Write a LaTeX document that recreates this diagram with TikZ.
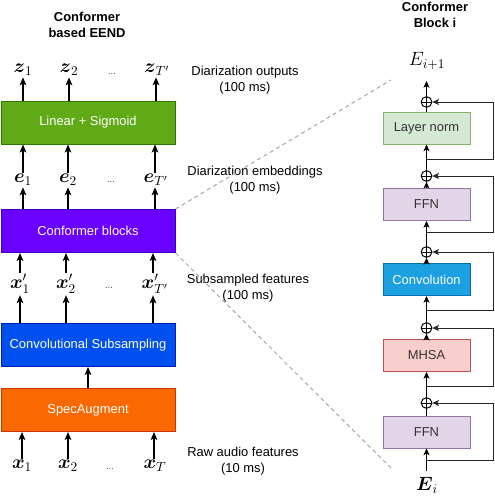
\documentclass[tikz,border=0pt]{standalone}
\usepackage{amsmath}
\usepackage{amssymb}
\usepackage[no-math]{fontspec}
\setmainfont{Liberation Sans}
\usetikzlibrary{arrows.meta,positioning}
\definecolor{lingreen}{HTML}{60A917}
\definecolor{lingreenD}{HTML}{2D7600}
\definecolor{confviolet}{HTML}{6A00FF}
\definecolor{confvioletD}{HTML}{3700CC}
\definecolor{subblue}{HTML}{0050EF}
\definecolor{subblueD}{HTML}{001DBC}
\definecolor{specorange}{HTML}{FA6800}
\definecolor{specorangeD}{HTML}{C73500}
\definecolor{lnfill}{HTML}{D5E8D4}
\definecolor{lnline}{HTML}{82B366}
\definecolor{fffill}{HTML}{E1D5E7}
\definecolor{ffline}{HTML}{9673A6}
\definecolor{cvfill}{HTML}{1BA1E2}
\definecolor{cvline}{HTML}{006EAF}
\definecolor{mhfill}{HTML}{F8CECC}
\definecolor{mhline}{HTML}{B85450}
\tikzstyle{block}=[rectangle, draw, line width=0.75pt, minimum width=130.5pt, minimum height=32.25pt, text=white, inner sep=0pt, font=\fontsize{9.7}{11.6}\selectfont]
\tikzstyle{layer}=[rectangle, draw, line width=0.75pt, minimum width=65.25pt, minimum height=24pt, text=black!80, inner sep=0pt, font=\fontsize{9.7}{11.6}\selectfont]
\tikzstyle{sym}=[inner sep=1pt, font=\fontsize{14}{16}\selectfont]
\tikzstyle{dots}=[inner sep=1pt, text=black!70, font=\fontsize{7}{8}\selectfont]
\tikzstyle{note}=[align=center, font=\fontsize{9.7}{11.6}\selectfont]
\tikzstyle{title}=[align=center, font=\fontsize{9.7}{11.6}\selectfont\bfseries]
\tikzstyle{plus}=[circle, draw, inner sep=0pt, minimum size=8pt, line width=0.75pt,
  path picture={\draw[line width=0.75pt] (path picture bounding box.north) -- (path picture bounding box.south)
  (path picture bounding box.west) -- (path picture bounding box.east);}]
\tikzstyle{arr}=[-{Stealth[length=6pt,width=5pt,inset=1.5pt]}, line width=1.1pt]
\tikzstyle{flow}=[-{Stealth[length=5pt,width=4.5pt,inset=1.2pt]}, line width=0.75pt]
\tikzstyle{skip}=[-{Stealth[length=5pt,width=4.5pt,inset=1.2pt]}, line width=0.75pt, black!85]
\tikzstyle{zoomline}=[gray!70, line width=0.75pt, dash pattern=on 3pt off 2.5pt]
\newcommand{\block}{\node[block]}
\newcommand{\layer}{\node[layer]}
\newcommand{\plus}{\node[plus]}

\begin{document}
\begin{tikzpicture}[x=0.75pt,y=-0.75pt]
            \useasboundingbox (0,0) rectangle (494,496);

            % left: conformer based EEND
            \node[title] (tl) at (87,25) {Conformer\\based EEND};
            \block[fill=lingreen, draw=lingreenD] (lin) at (88,122.5) {Linear + Sigmoid};
            \block[fill=confviolet, draw=confvioletD] (con) at (88,231) {Conformer blocks};
            \block[fill=subblue, draw=subblueD] (sub) at (88,345) {Convolutional Subsampling};
            \block[fill=specorange, draw=specorangeD] (spec) at (88,410) {SpecAugment};

            \node[sym] (z1) at (23,70) {$\boldsymbol{z}_1$};
            \node[sym] (z2) at (69,70) {$\boldsymbol{z}_2$};
            \node[dots] (zd) at (112,74) {...};
            \node[sym] (zT) at (157,70) {$\boldsymbol{z}_{T'}$};
            \node[sym] (e1) at (23,180) {$\boldsymbol{e}_1$};
            \node[sym] (e2) at (68,180) {$\boldsymbol{e}_2$};
            \node[dots] (ed) at (111,182) {...};
            \node[sym] (eT) at (156,180) {$\boldsymbol{e}_{T'}$};
            \node[sym] (x1) at (20,284) {$\boldsymbol{x}'_1$};
            \node[sym] (x2) at (66,284) {$\boldsymbol{x}'_2$};
            \node[dots] (xd) at (109,288) {...};
            \node[sym] (xT) at (155,284) {$\boldsymbol{x}'_{T'}$};
            \node[sym] (r1) at (22,466) {$\boldsymbol{x}_1$};
            \node[sym] (r2) at (68,466) {$\boldsymbol{x}_2$};
            \node[dots] (rd) at (110,469) {...};
            \node[sym] (rT) at (155,466) {$\boldsymbol{x}_T$};

            \path[arr]
            (lin.north -| z1) edge (z1)
            (lin.north -| z2) edge (z2)
            (lin.north -| 156,0) edge (zT.south -| 156,0)
            (e1) edge (lin.south -| e1)
            (e2) edge (lin.south -| e2)
            (eT.north -| 155,0) edge (lin.south -| 155,0)
            (con.north -| e1) edge (e1)
            (con.north -| e2) edge (e2)
            (con.north -| 155,0) edge (eT.south -| 155,0)
            (x1) edge (con.south -| x1)
            (x2) edge (con.south -| x2)
            (xT.north -| 153,0) edge (con.south -| 153,0)
            (sub.north -| x1) edge (x1)
            (sub.north -| x2) edge (x2)
            (sub.north -| 153,0) edge (xT.south -| 153,0)
            (spec) edge (sub)
            (r1) edge (spec.south -| r1)
            (r2) edge (spec.south -| r2)
            (rT.north -| 154,0) edge (spec.south -| 154,0)
            ;

            % middle notes
            \node[note] (n1) at (245,80) {Diarization outputs\\(100 ms)};
            \node[note] (n2) at (255,180) {Diarization embeddings\\(100 ms)};
            \node[note] (n3) at (248,288) {Subsampled features\\(100 ms)};
            \node[note] (n4) at (243,461) {Raw audio features\\(10 ms)};

            % right: conformer block
            \node[title] (tr) at (435,15) {Conformer\\Block i};
            \layer[fill=lnfill, draw=lnline] (ln) at (426.5,128) {Layer norm};
            \layer[fill=fffill, draw=ffline] (ffa) at (426.5,204.5) {FFN};
            \layer[fill=cvfill, draw=cvline, text=white] (cv) at (426.5,279.5) {Convolution};
            \layer[fill=mhfill, draw=mhline] (mh) at (426.5,355.5) {MHSA};
            \layer[fill=fffill, draw=ffline] (ffb) at (426.5,432) {FFN};
            \plus (p5) at (426.5,102) {};
            \plus (p4) at (426.5,176) {};
            \plus (p3) at (426.5,252) {};
            \plus (p2) at (426.5,328) {};
            \plus (p1) at (426.5,403) {};
            \node[sym] (eo) at (427,61) {$E_{i+1}$};
            \node[sym, inner sep=0pt] (ei) at (427,485) {$\boldsymbol{E}_i$};
            \coordinate (out) at (426.5,81);
            \coordinate (in) at (426.5,471);
            \coordinate (b1) at (426.5,460);
            \coordinate (b2) at (426.5,386);
            \coordinate (b3) at (426.5,310);
            \coordinate (b4) at (426.5,232);
            \coordinate (b5) at (426.5,159);

            \path[flow]
            (in) edge (ffb)
            (p1) edge (mh)
            (mh) edge (p2)
            (p2) edge (cv)
            (cv) edge (p3)
            (p3) edge (ffa)
            (ffa) edge (p4)
            (p4) edge (ln)
            (p5) edge (out)
            ;
            \draw[line width=0.75pt] (ffb) -- (p1) (ln) -- (p5);

            \draw[skip] (b1) -- ++(66.5,0) |- (p1);
            \draw[skip] (b2) -- ++(66.5,0) |- (p2);
            \draw[skip] (b3) -- ++(66.5,0) |- (p3);
            \draw[skip] (b4) -- ++(66.5,0) |- (p4);
            \draw[skip] (b5) -- ++(66.5,0) |- (p5);

            % zoom lines
            \coordinate (zt) at (391,80);
            \coordinate (zb) at (393,470);
            \draw[zoomline] (con.north east) -- (zt);
            \draw[zoomline] (con.south east) -- (zb);
\end{tikzpicture}
\end{document}
